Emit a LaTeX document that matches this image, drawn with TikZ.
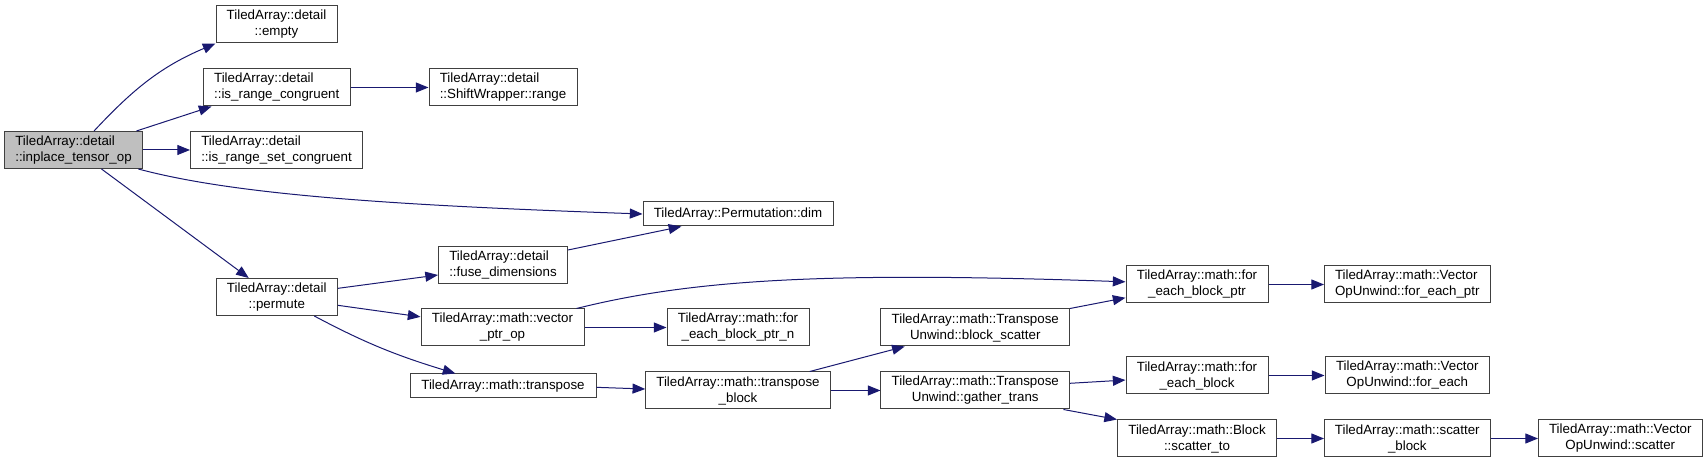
\documentclass[tikz,border=0pt]{standalone}
\usepackage{fontspec}
\setmainfont{Liberation Sans}
\usepackage{tikz}
\usetikzlibrary{arrows.meta, calc}
\usepackage{xcolor}
\definecolor{edgeblue}{HTML}{191970}

\tikzset{
  fn/.style={draw=black!75, line width=0.75pt, fill=white, inner sep=0pt, minimum height=27.75pt,
    font=\fontsize{10}{12}\selectfont, align=center},
  fnl/.style={fn, align=left},
  fnone/.style={fn, minimum height=18pt},
  root/.style={fnl, fill=black!25},
  call/.style={draw=edgeblue, line width=0.75pt, -{Triangle[length=9.5pt,width=7.5pt]}},
}

\begin{document}
\begin{tikzpicture}[x=0.75pt, y=0.75pt]
  \useasboundingbox (0,0) rectangle (1708,463);
  % column 0 and 1
  \node[root, minimum width=103.5pt] (inplace) at (73.5,313) {TiledArray::detail\\::inplace\_tensor\_op};
  \node[fn, minimum width=90.75pt] (empty) at (276.5,438.5) {TiledArray::detail\\::empty};
  \node[fnl, minimum width=109.9pt] (rangecong) at (276.75,375.5) {TiledArray::detail\\::is\_range\_congruent};
  \node[fnl, minimum width=129pt] (rangesetcong) at (276.5,313) {TiledArray::detail\\::is\_range\_set\_congruent};
  \node[fn, minimum width=91.1pt] (permute) at (276.75,166) {TiledArray::detail\\::permute};
  % column 2 and 3
  \node[fnl, minimum width=111pt] (shiftrange) at (503,375.5) {TiledArray::detail\\::ShiftWrapper::range};
  \node[fnl, minimum width=96.75pt] (fusedims) at (503,198) {TiledArray::detail\\::fuse\_dimensions};
  \node[fn, minimum width=122.25pt] (vecptrop) at (502.5,135.5) {TiledArray::math::vector\\\_ptr\_op};
  \node[fnone, minimum width=139.5pt] (transpose) at (503,77) {TiledArray::math::transpose};
  \node[fnone, minimum width=142.5pt] (permdim) at (738,249) {TiledArray::Permutation::dim};
  \node[fn, minimum width=106.5pt] (blockptrn) at (738,135.5) {TiledArray::math::for\\\_each\_block\_ptr\_n};
  \node[fn, minimum width=138.4pt] (transblock) at (738,72.5) {TiledArray::math::transpose\\\_block};
  % column 4 to 7
  \node[fn, minimum width=141.4pt] (blockscatter) at (975.25,135.5) {TiledArray::math::Transpose\\Unwind::block\_scatter};
  \node[fn, minimum width=141.4pt] (gathertrans) at (975.25,72.5) {TiledArray::math::Transpose\\Unwind::gather\_trans};
  \node[fn, minimum width=106.5pt] (blockptr) at (1197,178.5) {TiledArray::math::for\\\_each\_block\_ptr};
  \node[fn, minimum width=106.5pt] (eachblock) at (1197,87.5) {TiledArray::math::for\\\_each\_block};
  \node[fn, minimum width=119.25pt] (scatterto) at (1197,24.5) {TiledArray::math::Block\\::scatter\_to};
  \node[fnl, minimum width=124.1pt] (vopeachptr) at (1407.25,178.5) {TiledArray::math::Vector\\OpUnwind::for\_each\_ptr};
  \node[fn, minimum width=123.4pt] (vopeach) at (1407.25,87.5) {TiledArray::math::Vector\\OpUnwind::for\_each};
  \node[fn, minimum width=124.1pt] (scatterblock) at (1407.25,24.5) {TiledArray::math::scatter\\\_block};
  \node[fn, minimum width=122.6pt] (vopscatter) at (1620.25,24.5) {TiledArray::math::Vector\\OpUnwind::scatter};

  % calls
  \draw[call] ([xshift=15.4pt]inplace.north) to[out=47,in=203] (empty.south west);
  \draw[call] ([xshift=-4.9pt]inplace.north east) -- ([xshift=6.4pt]rangecong.south west);
  \draw[call] (inplace) -- (rangesetcong);
  \draw[call] ([xshift=-3.5pt]inplace.south east) .. controls +(-15:100) and +(178:250) .. (permdim.west);
  \draw[call] ([xshift=21pt]inplace.south) -- ([xshift=-21pt]permute.north);
  \draw[call] (rangecong) -- (shiftrange);
  \draw[call] ([yshift=6.5pt]permute.east) -- ([yshift=-7.5pt]fusedims.west);
  \draw[call] ([yshift=-6.25pt]permute.east) -- ([yshift=8pt]vecptrop.west);
  \draw[call] ([xshift=-17.8pt]permute.south east) to[out=-28,in=163] ([xshift=-35.7pt]transpose.north);
  \draw[call] ([yshift=-3pt]fusedims.north east) -- ([xshift=-42.5pt]permdim.south);
  \draw[call] ([xshift=-6pt]vecptrop.north east) .. controls +(14:120) and +(178:300) .. ([yshift=2pt]blockptr.west);
  \draw[call] (vecptrop) -- (blockptrn);
  \draw[call] ([yshift=-1pt]transpose.east) -- ([yshift=1.1pt]transblock.west);
  \draw[call] ([xshift=-15.75pt]transblock.north east) -- ([xshift=18.2pt]blockscatter.south west);
  \draw[call] (transblock) -- (gathertrans);
  \draw[call] (blockscatter.north east) -- ([yshift=4.3pt]blockptr.south west);
  \draw[call] ([yshift=5.4pt]gathertrans.east) -- ([yshift=-3.4pt]eachblock.west);
  \draw[call] ([xshift=-4.9pt]gathertrans.south east) -- (scatterto.north west);
  \draw[call] (blockptr) -- (vopeachptr);
  \draw[call] (eachblock) -- (vopeach);
  \draw[call] (scatterto) -- (scatterblock);
  \draw[call] (scatterblock) -- (vopscatter);
\end{tikzpicture}
\end{document}
